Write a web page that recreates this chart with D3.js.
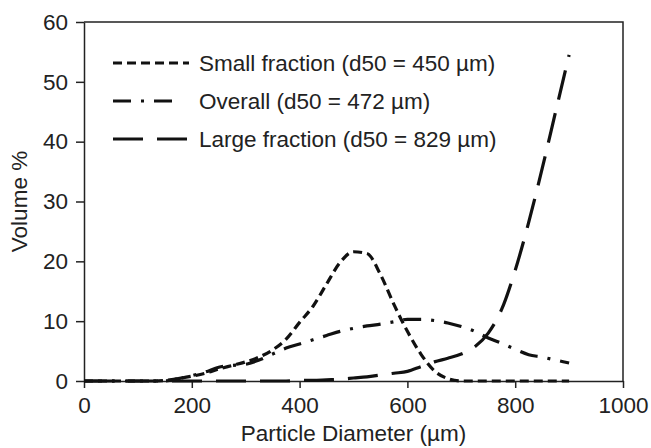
<!DOCTYPE html>
<html>
<head>
<meta charset="utf-8">
<script src="https://cdn.jsdelivr.net/npm/d3@7"></script>
<style>
  body { margin: 0; background: #fff; }
  text { font-family: "Liberation Sans", Arial, sans-serif; fill: #222; }
</style>
</head>
<body>
<div id="chart"></div>
<script>
const diameters = [0, 25, 50, 75, 100, 125, 150, 175, 200, 225, 250, 275, 300, 325, 350, 375, 400,
  425, 450, 475, 500, 525, 550, 575, 600, 625, 650, 675, 700, 725, 750, 775, 800, 825, 850, 875, 900];
const smallFraction = [0, 0, 0, 0, 0, 0, 0.1, 0.4, 0.8, 1.3, 2.0, 2.6, 3.2, 4.0, 5.2, 7.0, 9.8,
  12.5, 16.2, 19.8, 21.6, 21.3, 17.8, 12.8, 8.3, 4.5, 1.7, 0.4, 0, 0, 0, 0, 0, 0, 0, 0, 0];
const overall = [0, 0, 0, 0, 0, 0, 0, 0.4, 0.9, 1.5, 2.3, 2.6, 2.8, 3.5, 4.5, 5.5, 6.2,
  6.9, 7.6, 8.3, 8.8, 9.2, 9.5, 9.9, 10.3, 10.3, 10.1, 9.7, 9.1, 8.3, 7.2, 6.3, 5.3, 4.4, 4.0, 3.5, 3.0];
const largeFraction = [0, 0, 0, 0, 0, 0, 0, 0, 0, 0, 0, 0, 0, 0, 0, 0, 0.1,
  0.1, 0.2, 0.3, 0.5, 0.7, 1.0, 1.3, 1.6, 2.4, 3.2, 3.8, 4.5, 5.7, 8.0, 12.0, 18.5, 26.5, 35.5, 45, 54.5];
const seriesNames = ['Small fraction (d50 = 450 \u00b5m)', 'Overall (d50 = 472 \u00b5m)', 'Large fraction (d50 = 829 \u00b5m)'];
const xTicks = [0, 200, 400, 600, 800, 1000];
const yTicks = [0, 10, 20, 30, 40, 50, 60];

const W = 651, H = 448;
const margin = { top: 22, right: 28, bottom: 67, left: 84 };
const iw = W - margin.left - margin.right;
const ih = H - margin.top - margin.bottom;
const fs = 22.5;

const svg = d3.select('#chart').append('svg')
  .attr('width', W)
  .attr('height', H);
const g = svg.append('g').attr('transform', `translate(${margin.left},${margin.top})`);

const x = d3.scaleLinear().domain([0, 1000]).range([0, iw]);
const y = d3.scaleLinear().domain([0, 60]).range([ih, 0]);

// frame (top and right)
g.append('path')
  .attr('d', `M0,0 H${iw} V${ih}`)
  .attr('fill', 'none')
  .attr('stroke', '#222')
  .attr('stroke-width', 1.5);

const xAxis = g.append('g')
  .attr('transform', `translate(0,${ih})`)
  .call(d3.axisBottom(x).tickValues(xTicks).tickFormat(d3.format('d'))
    .tickSize(7).tickSizeOuter(0).tickPadding(9));
const yAxis = g.append('g')
  .call(d3.axisLeft(y).tickValues(yTicks).tickFormat(d3.format('d'))
    .tickSize(8).tickSizeOuter(0).tickPadding(8));
[xAxis, yAxis].forEach(a => {
  a.selectAll('path, line').attr('stroke', '#222').attr('stroke-width', 1.5);
  a.selectAll('text').attr('font-size', fs).attr('fill', '#222')
    .attr('font-family', '"Liberation Sans", Arial, sans-serif');
});

const series = [
  { name: seriesNames[0], values: smallFraction, dash: '9,5' },
  { name: seriesNames[1], values: overall, dash: '18,10,3,10' },
  { name: seriesNames[2], values: largeFraction, dash: '30,14' }
];

const line = d3.line()
  .x((d, i) => x(diameters[i]))
  .y(d => y(d))
  .curve(d3.curveMonotoneX);

g.selectAll('.series')
  .data(series)
  .enter().append('path')
  .attr('class', 'series')
  .attr('d', d => line(d.values))
  .attr('fill', 'none')
  .attr('stroke', '#111')
  .attr('stroke-width', 3.2)
  .attr('stroke-dasharray', d => d.dash);

// legend
const legend = g.append('g').attr('transform', 'translate(29,41)');
const legendLen = [76, 61, 76];
const items = legend.selectAll('g')
  .data(series)
  .enter().append('g')
  .attr('transform', (d, i) => `translate(0,${i * 38})`);
items.append('line')
  .attr('x1', 0)
  .attr('x2', (d, i) => legendLen[i])
  .attr('stroke', '#111')
  .attr('stroke-width', 3.2)
  .attr('stroke-dasharray', d => d.dash);
items.append('text')
  .attr('x', 86)
  .attr('y', 8)
  .attr('font-size', fs)
  .text(d => d.name);

// axis titles
svg.append('text')
  .attr('x', margin.left + iw / 2)
  .attr('y', 441)
  .attr('text-anchor', 'middle')
  .attr('font-size', fs)
  .text('Particle Diameter (\u00b5m)');
svg.append('text')
  .attr('transform', `translate(27,${margin.top + ih / 2}) rotate(-90)`)
  .attr('text-anchor', 'middle')
  .attr('font-size', fs)
  .text('Volume %');
</script>
</body>
</html>
